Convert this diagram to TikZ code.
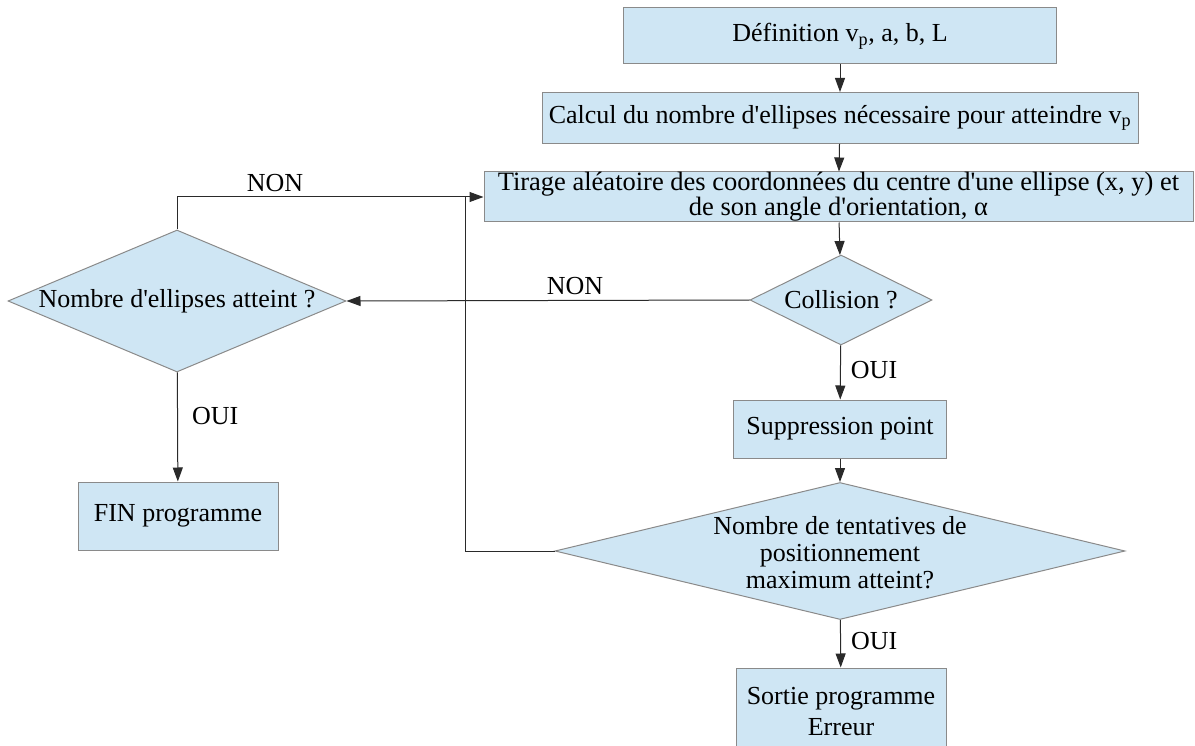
\documentclass[tikz,border=0pt]{standalone}
\usepackage{fontspec}
\setmainfont{Liberation Serif}[Ligatures=TeXOff]
\usetikzlibrary{arrows.meta,shapes.geometric,calc}
\definecolor{boxfill}{HTML}{CFE6F4}
\definecolor{boxline}{HTML}{8A8A8A}
\definecolor{wire}{HTML}{2A2A2A}
\tikzset{
  every node/.style={font=\rmfamily\fontsize{26}{27}\selectfont},
  stepbox/.style={draw=boxline, fill=boxfill, line width=1pt, inner sep=0pt, align=center},
  testbox/.style={draw=boxline, fill=boxfill, line width=1pt, diamond, inner sep=0pt},
  arr/.style={draw=wire, line width=1pt, -{Triangle[length=14pt,width=10pt]}},
  wireline/.style={draw=wire, line width=1pt},
  lbl/.style={inner sep=0pt}
}
\begin{document}
\begin{tikzpicture}[x=1pt,y=-1pt]
\useasboundingbox (0,0) rectangle (1195,746);

% main column
\node[stepbox, minimum width=433, minimum height=56] (def) at (840,36)
  {Définition v\textsubscript{p}, a, b, L};
\node[stepbox, minimum width=596, minimum height=51] (calc) at (840,118)
  {Calcul du nombre d'ellipses nécessaire pour atteindre v\textsubscript{p}};
\node[stepbox, minimum width=709, minimum height=50] (tir) at (838.5,197) {};
\node[lbl, align=center, font=\rmfamily\fontsize{26.5}{25}\selectfont] at (tir)
  {Tirage aléatoire des coordonnées du centre d'une ellipse (x, y) et\\de son angle d'orientation, α};
\node[testbox, minimum width=182, minimum height=90] (col) at (841,300) {};
\node[lbl] at (col) {Collision ?};
\node[stepbox, minimum width=213, minimum height=58] (sup) at (840,429) {Suppression point};
\node[testbox, minimum width=570, minimum height=137] (tent) at (840,551) {};
\node[lbl, align=center, font=\rmfamily\fontsize{26}{27}\selectfont] at (840,553)
  {Nombre de tentatives de\\positionnement\\maximum atteint?};
\node[stepbox, minimum width=210, minimum height=100] (err) at (841,718) {};
\node[lbl, align=center, font=\rmfamily\fontsize{26}{31}\selectfont] at (841,712)
  {Sortie programme\\Erreur};

% left column
\node[testbox, minimum width=338, minimum height=142] (nb) at (177,301) {};
\node[lbl] at (nb) {Nombre d'ellipses atteint ?};
\node[stepbox, minimum width=200, minimum height=68] (fin) at (178,516) {FIN programme};

\coordinate (junc) at (465,197);

% connectors
\draw[arr] (def) -- (calc);
\draw[arr] (calc) -- (tir);
\draw[arr] (tir) -- (col);
\draw[arr] (col) -- node[lbl, right=10pt, pos=0.45] {OUI} (sup);
\draw[arr] (sup) -- (tent);
\draw[arr] (tent) -- node[lbl, right=10pt, pos=0.45] {OUI} (err);
\draw[arr] (col.west) -- node[lbl, above=5pt, pos=0.433] {NON} (nb.east);
\draw[arr] (nb) -- node[lbl, right=14pt, pos=0.4] {OUI} (fin);
\draw[arr] (nb.north) |- node[lbl, above=5pt, pos=0.66] {NON} (tir.west);
\draw[wireline] (tent.west) -| (junc);
\end{tikzpicture}
\end{document}
